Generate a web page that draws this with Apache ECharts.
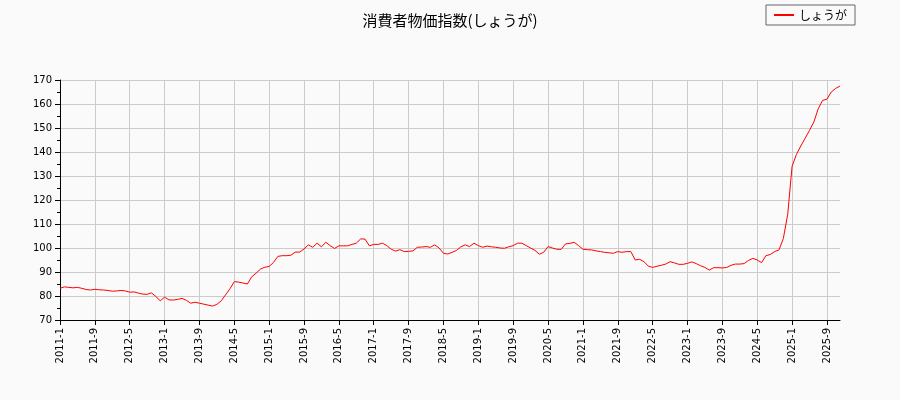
<!DOCTYPE html><html><head><meta charset="utf-8"><script src="https://cdn.jsdelivr.net/npm/echarts@6/dist/echarts.min.js"></script></head><body style="margin:0;background:#fafafa"><div id="c" style="width:900px;height:400px"></div><script>
const seriesName='しょうが';
const values=[
83.2,83.8,83.6,83.4,83.6,83.2,82.7,82.5,82.8,82.6,82.5,82.3,
82.0,82.1,82.3,82.1,81.6,81.7,81.2,80.8,80.7,81.3,79.8,78.0,
79.5,78.4,78.3,78.6,79.0,78.2,77.0,77.4,77.0,76.6,76.2,75.8,
76.5,78,80.5,83,86,85.8,85.4,85,88,89.5,91.2,92.0,
92.3,94,96.5,96.8,96.8,97,98.3,98.3,99.6,101.3,100.3,102,
100.5,102.4,101,99.8,100.9,100.9,100.9,101.5,102,103.8,103.7,100.9,
101.5,101.5,102,101,99.5,98.7,99.3,98.5,98.6,98.8,100.3,100.4,
100.6,100.3,101.3,100,97.8,97.5,98.2,99,100.5,101.3,100.6,102,
101,100.3,100.8,100.5,100.3,100,99.9,100.5,101,102,102,101,
100,99,97.4,98.2,100.6,100,99.5,99.4,101.7,101.9,102.4,101,
99.5,99.3,99.2,98.8,98.5,98.2,98,97.8,98.5,98.2,98.5,98.5,
95,95.3,94.3,92.5,91.9,92.4,92.8,93.3,94.3,93.8,93.2,93.2,
93.6,94.2,93.5,92.6,91.9,90.8,91.8,91.8,91.7,91.9,92.8,93.3,
93.3,93.5,94.8,95.7,95,93.9,96.8,97.3,98.5,99.2,104,114,
134,139,142.5,145.7,149,152.5,158,161.5,162,165,166.5,167.5];
const categories=[];
for(let y=2011;y<=2025;y++)for(let m=1;m<=12;m++)categories.push(y+'-'+m);
const ch=echarts.init(document.getElementById('c'));
ch.setOption({backgroundColor:'#fafafa',animation:false,
title:{text:'消費者物価指数(しょうが)',left:'center',top:8,textStyle:{fontSize:15,fontWeight:'normal',color:'#000',fontFamily:'Noto Sans CJK JP'}},
legend:{right:45,top:5,data:[{name:seriesName,icon:'rect'}],borderColor:'#666',borderWidth:1,borderRadius:0,padding:[4,8],itemWidth:20,itemHeight:2,textStyle:{fontSize:12,color:'#000',fontFamily:'Noto Sans CJK JP'}},
grid:{left:60,right:60,top:80,bottom:80},
xAxis:{type:'category',data:categories,boundaryGap:false,
axisLine:{lineStyle:{color:'#000'}},axisTick:{interval:7,alignWithLabel:true,lineStyle:{color:'#000'}},
axisLabel:{interval:7,rotate:90,color:'#000',fontSize:10,fontFamily:'DejaVu Sans'},
splitLine:{show:true,interval:7,lineStyle:{color:'#ccc'}}},
yAxis:{type:'value',min:70,max:170,interval:10,axisLine:{show:true,lineStyle:{color:'#000'}},axisTick:{show:true,lineStyle:{color:'#000'}},
minorTick:{show:true,splitNumber:2,lineStyle:{color:'#000'}},
axisLabel:{color:'#000',fontSize:10,fontFamily:'DejaVu Sans'},splitLine:{lineStyle:{color:'#ccc'}}},
series:[{name:seriesName,type:'line',data:values,showSymbol:false,lineStyle:{color:'#ff0000',width:1},itemStyle:{color:'#ff0000'}}]});
</script></body></html>
